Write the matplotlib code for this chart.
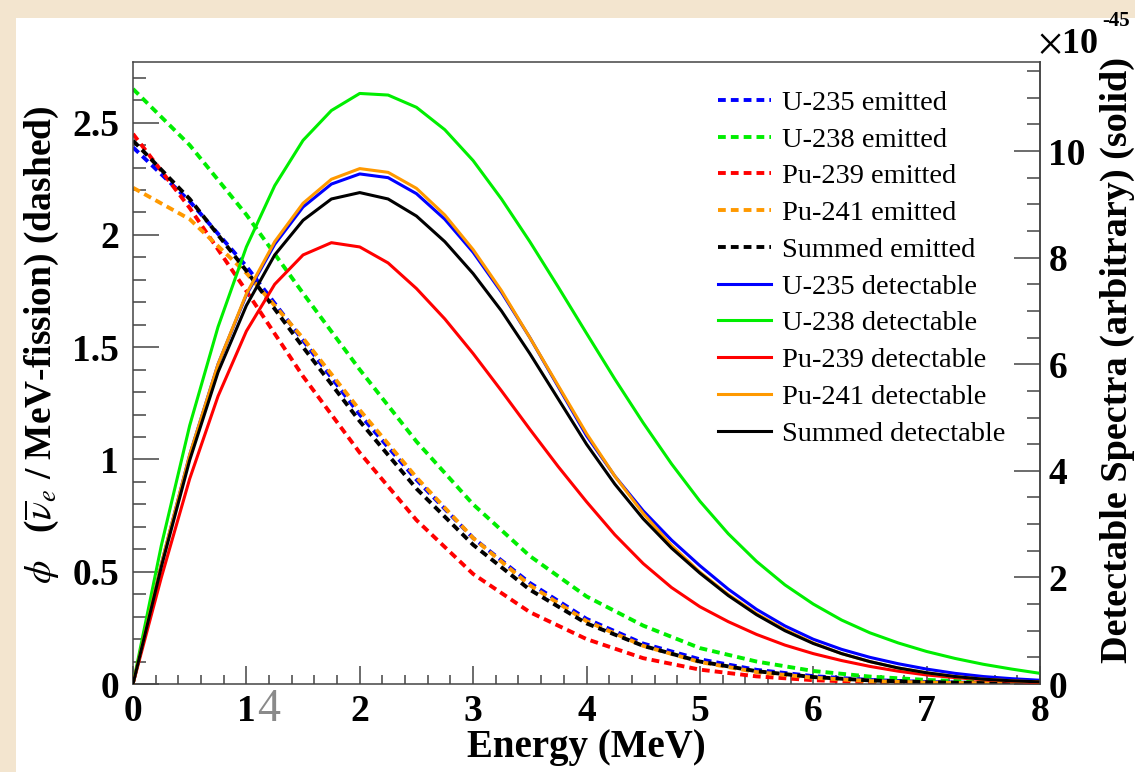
import matplotlib
matplotlib.use('Agg')
import matplotlib.pyplot as plt
from matplotlib.patches import Rectangle
from matplotlib.ticker import MultipleLocator
from matplotlib.font_manager import FontProperties

# ---------------- data ----------------
energy_emit = [0.0, 0.5, 1.0, 1.5, 2.0, 2.5, 3.0, 3.5, 4.0, 4.5, 5.0, 5.5, 6.0, 6.5, 7.0, 7.5, 8.0]
u235_emit = [2.39, 2.15, 1.86, 1.53, 1.20, 0.91, 0.65, 0.45, 0.29, 0.18, 0.11, 0.063, 0.035, 0.018, 0.009, 0.004, 0.002]
u238_emit = [2.65, 2.40, 2.09, 1.74, 1.40, 1.08, 0.80, 0.57, 0.39, 0.26, 0.16, 0.100, 0.058, 0.033, 0.018, 0.009, 0.005]
pu239_emit = [2.45, 2.12, 1.75, 1.37, 1.03, 0.73, 0.49, 0.32, 0.20, 0.115, 0.064, 0.034, 0.017, 0.008, 0.004, 0.002, 0.001]
pu241_emit = [2.21, 2.07, 1.83, 1.54, 1.22, 0.92, 0.65, 0.44, 0.28, 0.17, 0.098, 0.053, 0.028, 0.013, 0.006, 0.003, 0.001]
sum_emit = [2.42, 2.16, 1.84, 1.50, 1.17, 0.87, 0.62, 0.42, 0.27, 0.17, 0.100, 0.057, 0.031, 0.016, 0.008, 0.004, 0.002]

energy_det = [0.0, 0.25, 0.5, 0.75, 1.0, 1.25, 1.5, 1.75, 2.0, 2.25, 2.5, 2.75, 3.0, 3.25, 3.5, 3.75,
              4.0, 4.25, 4.5, 4.75, 5.0, 5.25, 5.5, 5.75, 6.0, 6.25, 6.5, 6.75, 7.0, 7.25, 7.5, 7.75, 8.0]
u235_det = [0.0, 2.25, 4.3, 6.0, 7.3, 8.25, 8.95, 9.38, 9.57, 9.5, 9.2, 8.72, 8.1, 7.35, 6.5, 5.58,
            4.66, 3.9, 3.25, 2.7, 2.22, 1.78, 1.4, 1.09, 0.84, 0.65, 0.5, 0.38, 0.28, 0.2, 0.14, 0.1, 0.07]
u238_det = [0.0, 2.6, 4.85, 6.7, 8.2, 9.35, 10.2, 10.76, 11.08, 11.05, 10.82, 10.4, 9.82, 9.1, 8.3, 7.45,
            6.58, 5.72, 4.9, 4.13, 3.43, 2.82, 2.3, 1.86, 1.5, 1.2, 0.96, 0.77, 0.61, 0.48, 0.37, 0.28, 0.2]
pu239_det = [0.0, 2.0, 3.85, 5.4, 6.62, 7.5, 8.05, 8.28, 8.2, 7.9, 7.42, 6.85, 6.2, 5.5, 4.78, 4.08,
             3.42, 2.8, 2.26, 1.81, 1.45, 1.17, 0.93, 0.73, 0.57, 0.44, 0.33, 0.24, 0.17, 0.12, 0.08, 0.05, 0.03]
pu241_det = [0.0, 2.25, 4.3, 6.0, 7.32, 8.3, 9.02, 9.47, 9.67, 9.6, 9.3, 8.8, 8.15, 7.38, 6.5, 5.6,
             4.7, 3.9, 3.2, 2.6, 2.1, 1.68, 1.32, 1.02, 0.77, 0.57, 0.42, 0.3, 0.21, 0.14, 0.09, 0.06, 0.04]
sum_det = [0.0, 2.2, 4.2, 5.85, 7.1, 8.05, 8.7, 9.1, 9.22, 9.1, 8.78, 8.3, 7.7, 7.0, 6.2, 5.35,
           4.5, 3.75, 3.1, 2.55, 2.08, 1.66, 1.3, 1.0, 0.76, 0.57, 0.42, 0.3, 0.21, 0.14, 0.09, 0.06, 0.04]

labels_emit = ['U-235 emitted', 'U-238 emitted', 'Pu-239 emitted', 'Pu-241 emitted', 'Summed emitted']
labels_det = ['U-235 detectable', 'U-238 detectable', 'Pu-239 detectable', 'Pu-241 detectable', 'Summed detectable']
colors = ['#0000ff', '#00ee00', '#ff0000', '#ff9900', '#000000']

x_ticks = [0, 1, 2, 3, 4, 5, 6, 7, 8]
left_ticks = [0, 0.5, 1, 1.5, 2, 2.5]
left_tick_labels = ['0', '0.5', '1', '1.5', '2', '2.5']
right_ticks = [0, 2, 4, 6, 8, 10]

# ---------------- style ----------------
SERIF = ['Liberation Serif', 'DejaVu Serif']
plt.rcParams['font.family'] = SERIF
plt.rcParams['mathtext.fontset'] = 'stix'

W, H = 1135, 772
fig = plt.figure(figsize=(W / 100, H / 100), dpi=100)
fig.patch.set_facecolor('#f3e5cf')
fig.add_artist(Rectangle((16 / W, 0), 1 - 16 / W, 1 - 18 / H, transform=fig.transFigure,
                         facecolor='white', edgecolor='none', zorder=0))

ax = fig.add_axes([133 / W, 88 / H, 907 / W, 622 / H])
ax.set_facecolor('white')
ax2 = ax.twinx()

emit_series = [u235_emit, u238_emit, pu239_emit, pu241_emit, sum_emit]
det_series = [u235_det, u238_det, pu239_det, pu241_det, sum_det]

handles = []
for ys, c, lab in zip(emit_series, colors, labels_emit):
    ln, = ax.plot(energy_emit, ys, color=c, lw=2.8, linestyle=(0, (2.0, 1.3)), label=lab)
    handles.append(ln)
for ys, c, lab in zip(det_series, colors, labels_det):
    ln, = ax2.plot(energy_det, ys, color=c, lw=2.2, linestyle='-', label=lab)
    handles.append(ln)

ax.set_xlim(0, 8)
ax.set_ylim(0, 2.77)
ax2.set_ylim(0, 11.67)

ax.set_xticks(x_ticks)
ax.set_yticks(left_ticks)
ax2.set_yticks(right_ticks)
ax.xaxis.set_minor_locator(MultipleLocator(0.2))
ax.yaxis.set_minor_locator(MultipleLocator(0.1))
ax2.yaxis.set_minor_locator(MultipleLocator(0.5))

ax.set_xticklabels([str(v) for v in x_ticks])
ax.set_yticklabels(left_tick_labels)
ax2.set_yticklabels([str(v) for v in right_ticks])

tick_fp = FontProperties(family=SERIF, weight='bold', size=27)
for lab in ax.get_xticklabels() + ax.get_yticklabels() + ax2.get_yticklabels():
    lab.set_fontproperties(tick_fp)

tc = '#444444'
ax.tick_params(axis='x', which='major', direction='in', length=13, width=1.1, color=tc, pad=7, top=False)
ax.tick_params(axis='x', which='minor', direction='in', length=6.5, width=1.1, color=tc, top=False)
ax.tick_params(axis='y', which='major', direction='in', length=19, width=1.1, color=tc, pad=10, right=False)
ax.tick_params(axis='y', which='minor', direction='in', length=9.5, width=1.1, color=tc, right=False)
ax2.tick_params(axis='y', which='major', direction='in', length=19, width=1.1, color=tc, pad=6)
ax2.tick_params(axis='y', which='minor', direction='in', length=9.5, width=1.1, color=tc)

for sp in ax.spines.values():
    sp.set_linewidth(1.1)
    sp.set_color(tc)
for sp in ax2.spines.values():
    sp.set_visible(False)
ax2.spines['right'].set_visible(True)
ax2.spines['right'].set_linewidth(1.1)
ax2.spines['right'].set_color(tc)

fig.text(586 / W, 1 - 748 / H, 'Energy (MeV)', ha='center', va='center',
         fontsize=28, fontweight='bold', family=SERIF)
fig.text(42 / W, 1 - 345 / H, r'$\phi$   ($\overline{\nu}_{e}$ / MeV-fission) (dashed)', rotation=90,
         ha='center', va='center', fontsize=27, fontweight='bold', family=SERIF)
fig.text(1117 / W, 1 - 360 / H, 'Detectable Spectra (arbitrary) (solid)', rotation=90,
         ha='center', va='center', fontsize=27.5, fontweight='bold', family=SERIF)
fig.text(1038 / W, 1 - 45 / H, r'$\times$10', ha='left', va='center', fontsize=26, fontweight='bold',
         family=SERIF)
fig.text(1102 / W, 1 - 21 / H, '-45', ha='left', va='center', fontsize=15, fontweight='bold',
         family=SERIF)
fig.text(269 / W, 1 - 710 / H, '4', ha='center', va='center', fontsize=33, color='#8a8a8a',
         family=SERIF)

leg = ax2.legend(handles=handles, loc='upper left', bbox_to_anchor=(718 / W, 1 - 90 / H),
                 bbox_transform=fig.transFigure, frameon=False, fontsize=20.5,
                 handlelength=1.85, handletextpad=0.4, labelspacing=0.38, borderpad=0,
                 borderaxespad=0)

fig.savefig('out.png', dpi=100, facecolor=fig.get_facecolor())
